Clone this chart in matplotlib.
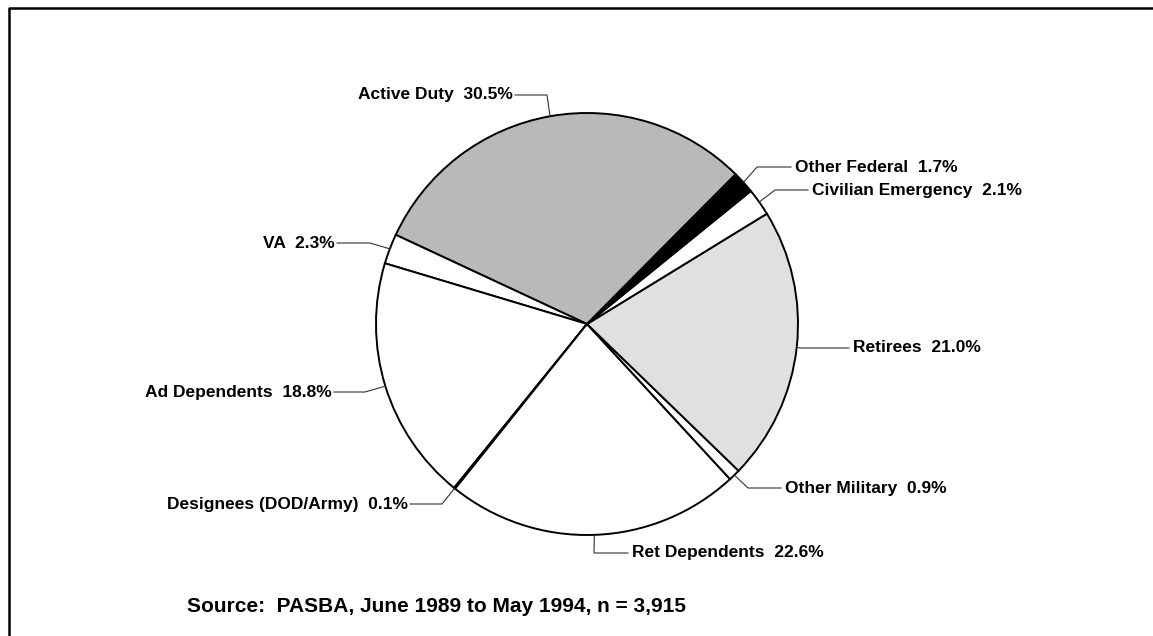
import matplotlib.pyplot as plt
import numpy as np

W, H = 1153, 636

labels = ['Active Duty', 'VA', 'Ad Dependents', 'Designees (DOD/Army)',
          'Ret Dependents', 'Other Military', 'Retirees',
          'Civilian Emergency', 'Other Federal']
shares = [30.5, 2.3, 18.8, 0.1, 22.6, 0.9, 21.0, 2.1, 1.7]
source_note = 'Source:  PASBA, June 1989 to May 1994, n = 3,915'

fills = ['#b9b9b9', 'white', 'white', 'white', 'white',
         'white', '#e0e0e0', 'white', 'black']

# label layout in pixels from the top-left: text anchor, alignment, leader elbow
label_layout = {
    'Active Duty':          ((513, 95), 'right', (547, 95)),
    'VA':                   ((335, 243), 'right', (370, 243)),
    'Ad Dependents':        ((332, 392), 'right', (365, 392)),
    'Designees (DOD/Army)': ((408, 504), 'right', (442, 504)),
    'Ret Dependents':       ((632, 553), 'left', (594, 553)),
    'Other Military':       ((785, 488), 'left', (748, 488)),
    'Retirees':             ((853, 348), 'left', (800, 348)),
    'Civilian Emergency':   ((812, 190), 'left', (775, 190)),
    'Other Federal':        ((795, 167), 'left', (757, 167)),
}

def px(x, y):
    return x, H - y

cx, cy = px(587, 324)
radius = 211

fig = plt.figure(figsize=(W / 100, H / 100), dpi=100)
ax = fig.add_axes([0, 0, 1, 1])

wedges, _ = ax.pie(shares, colors=fills, startangle=45.2, counterclock=True,
                   center=(cx, cy), radius=radius,
                   wedgeprops=dict(edgecolor='black', linewidth=1.4))

ax.set_xlim(0, W)
ax.set_ylim(0, H)
ax.set_aspect('equal')
ax.axis('off')

font = dict(family='Liberation Sans', weight='bold', color='black')

for w, name, val in zip(wedges, labels, shares):
    (tx, ty), ha, (ex, ey) = label_layout[name]
    mid = np.deg2rad((w.theta1 + w.theta2) / 2)
    ax_pt = (cx + radius * np.cos(mid), cy + radius * np.sin(mid))
    tx, ty = px(tx, ty)
    ex, ey = px(ex, ey)
    start = tx + 2 if ha == 'right' else tx - 4
    ax.plot([start, ex, ax_pt[0]], [ty, ey, ax_pt[1]], color='#333333',
            linewidth=0.8, solid_joinstyle='miter')
    ax.text(tx, ty, f'{name}  {val:.1f}%', ha=ha, va='center',
            fontsize=12.5, **font)

sx, sy = px(187, 607)
ax.text(sx, sy, source_note, ha='left', va='center', fontsize=15, **font)

# page frame (top and left edges of the scanned box)
ax.plot([9, 9, W], [0, H - 8, H - 8], color='black', linewidth=1.8)

fig.savefig('out.png', dpi=100)
